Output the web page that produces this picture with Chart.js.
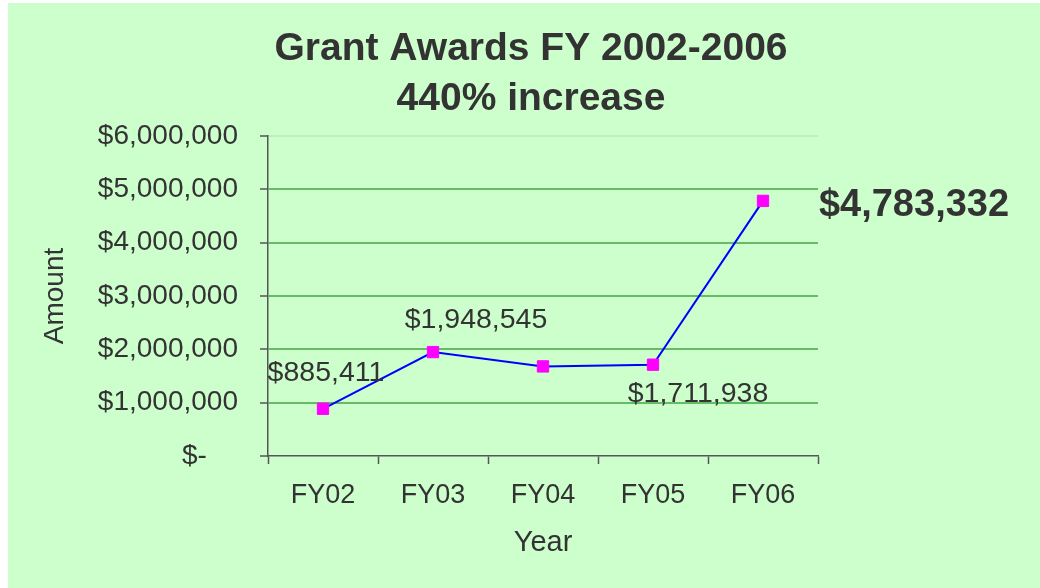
<!DOCTYPE html>
<html>
<head>
<meta charset="utf-8">
<script src="https://cdn.jsdelivr.net/npm/chart.js@4.4.1/dist/chart.umd.min.js"></script>
<style>
  html, body { margin: 0; padding: 0; background: #ffffff; }
  #wrap { width: 1040px; height: 588px; position: relative; }
</style>
</head>
<body>
<div id="wrap"><canvas id="c" width="1040" height="588"></canvas></div>
<script>
// ---- data ----
const categories = ['FY02', 'FY03', 'FY04', 'FY05', 'FY06'];
const amounts = [885411, 1948545, 1680000, 1711938, 4783332];
const yTickLabels = ['$-    ', '$1,000,000', '$2,000,000', '$3,000,000', '$4,000,000', '$5,000,000', '$6,000,000'];
const pointLabels = ['$885,411', '$1,948,545', '', '$1,711,938', '$4,783,332'];
const titleLines = ['Grant Awards FY 2002-2006', '440% increase'];

const FONT = "'Liberation Sans', Arial, Helvetica, sans-serif";
const TEXT = '#333333';

const bgPlugin = {
  id: 'bg',
  beforeDraw(chart) {
    const ctx = chart.ctx;
    ctx.save();
    ctx.fillStyle = '#ffffff';
    ctx.fillRect(0, 0, chart.width, chart.height);
    ctx.fillStyle = '#CCFFCC';
    ctx.fillRect(8, 3, chart.width - 8, chart.height - 3);
    ctx.restore();
  }
};

const textPlugin = {
  id: 'texts',
  afterDraw(chart) {
    const ctx = chart.ctx;
    const x = chart.scales.x, y = chart.scales.y;
    ctx.save();
    ctx.fillStyle = TEXT;
    ctx.textAlign = 'center';
    ctx.textBaseline = 'alphabetic';
    // titles
    ctx.font = 'bold 39px ' + FONT;
    ctx.fillText(titleLines[0], 531, 60);
    ctx.fillText(titleLines[1], 531, 110);
    // point labels (offset from each point)
    const offsets = [[3, -28, false], [43, -24, false], [0, 0, false], [45, 37, false], [151, 15, true]];
    pointLabels.forEach((t, i) => {
      if (!t) return;
      const px = x.getPixelForValue(i);
      const py = y.getPixelForValue(amounts[i]);
      const o = offsets[i];
      ctx.font = (o[2] ? 'bold 38px ' : '28.5px ') + FONT;
      ctx.fillText(t, px + o[0], py + o[1]);
    });
    ctx.restore();
  }
};

new Chart(document.getElementById('c'), {
  type: 'line',
  data: {
    labels: categories,
    datasets: [{
      data: amounts,
      borderColor: '#0000FF',
      borderWidth: 2,
      tension: 0,
      fill: false,
      pointStyle: 'rect',
      pointRadius: 8,
      pointHoverRadius: 8,
      pointBackgroundColor: '#FF00FF',
      pointBorderColor: '#FF00FF',
      pointBorderWidth: 1
    }]
  },
  options: {
    responsive: false,
    animation: false,
    events: [],
    layout: { padding: { left: 8, top: 136, right: 222, bottom: 0 } },
    plugins: {
      legend: { display: false },
      tooltip: { enabled: false },
      title: { display: false }
    },
    scales: {
      x: {
        type: 'category',
        offset: true,
        afterFit(s) { s.height = 132; },
        grid: {
          offset: true,
          drawOnChartArea: false,
          drawTicks: true,
          tickLength: 8,
          tickColor: '#555555',
          tickWidth: 1.5
        },
        border: { display: true, color: '#555555', width: 1.5 },
        ticks: {
          color: TEXT,
          font: { family: FONT, size: 27 },
          padding: 15,
          maxRotation: 0
        },
        title: {
          display: true,
          text: 'Year',
          color: TEXT,
          font: { family: FONT, size: 29 },
          padding: { top: 0, bottom: 28 }
        }
      },
      y: {
        min: 0,
        max: 6000000,
        afterFit(s) { s.width = 260; },
        grid: {
          color(ctx) {
            if (ctx.index === 0) return 'rgba(0,0,0,0)';
            if (ctx.index === 6) return '#BEEDBE';
            return '#66BB66';
          },
          lineWidth: 2,
          drawTicks: true,
          tickLength: 8,
          tickColor: '#555555',
          tickWidth: 1.5
        },
        border: { display: true, color: '#555555', width: 1.5 },
        ticks: {
          stepSize: 1000000,
          color: TEXT,
          font: { family: FONT, size: 28 },
          padding: 22,
          callback(v, i) { return yTickLabels[i]; }
        },
        title: {
          display: true,
          text: 'Amount',
          color: TEXT,
          font: { family: FONT, size: 28 },
          padding: { top: 30, bottom: 0 }
        }
      }
    }
  },
  plugins: [bgPlugin, textPlugin]
});
</script>
</body>
</html>
